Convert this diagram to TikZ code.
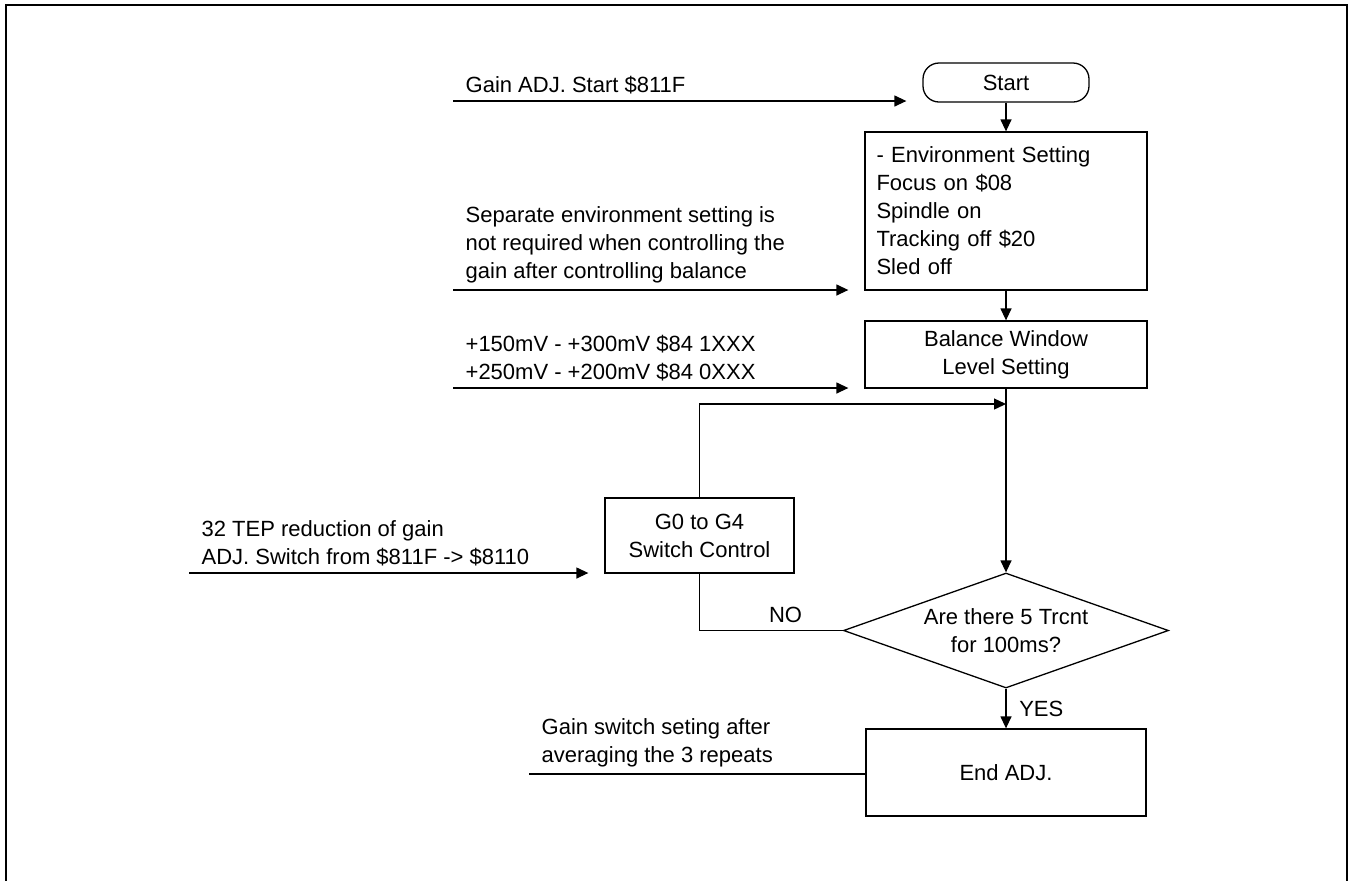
\documentclass[tikz,border=0pt]{standalone}
\usepackage{fontspec}
\setmainfont{Liberation Sans}
\usetikzlibrary{shapes.geometric,arrows.meta}
\definecolor{c000000}{RGB}{0,0,0}
\newcommand{\flowfont}{\fontsize{11pt}{14pt}\selectfont}

\begin{document}
\begin{tikzpicture}[y=0.5pt, x=0.5pt, yscale=-1, line width=0.65pt,
  every node/.style={font=\flowfont, text=c000000},
  proc/.style={draw=c000000, rectangle, inner sep=0pt, align=center,
    minimum width=141pt},
  term/.style={draw=c000000, rectangle, rounded corners=8pt, inner sep=0pt,
    minimum width=83pt, minimum height=19.5pt},
  decide/.style={draw=c000000, diamond, aspect=2.83, inner sep=0pt,
    minimum width=162.5pt, minimum height=57.5pt, align=center},
  flow/.style={draw=c000000, -{Triangle[length=6pt,width=5.5pt]}},
  feed/.style={flow, shorten >=8pt},
  note/.style={above right, align=left, inner sep=3pt, xshift=3pt}]
\useasboundingbox (0,0) rectangle (1350,880);
\path[draw=c000000, line width=1pt] (6,885) -- (6,5) -- (1347,5) -- (1347,885);

% main column
\node[term] (start) at (1006,82.5) {Start};
\node[proc, text width=129.5pt, inner xsep=5.5pt, align=left,
  minimum height=79pt] (env) at (1006,211)
  {- Environment Setting\\Focus on \$08\\Spindle on\\Tracking off \$20\\Sled off};
\node[proc, minimum height=33.5pt] (bal) at (1006,354.5)
  {Balance Window\\Level Setting};
\node[proc, minimum width=94.5pt, minimum height=37.5pt] (g0) at (699.5,535.5)
  {G0 to G4\\Switch Control};
\node[decide] (dec) at (1006,630.5) {Are there 5 Trcnt\\for 100ms?};
\node[proc, minimum width=140pt, minimum height=43.5pt] (endb) at (1006,772.5)
  {End ADJ.};

\path[flow] (start) -- (env);
\path[flow] (env) -- (bal);
\path[flow] (bal) -- (dec);
\path[flow] (dec) -- node[right=3pt] {YES} (endb);
\path[draw=c000000] (dec.west) -| node[above, pos=0.2] {NO} (g0.south);
\coordinate (join) at (1006,404);
\path[flow] (g0.north) |- (join);

% side inputs
\coordinate (gainin) at (453,101);
\coordinate (sepin) at (453,290);
\coordinate (voltin) at (453,388);
\coordinate (tepin) at (189,573);
\coordinate (avgin) at (529,774);
\path[feed] (gainin) -- (gainin -| start.west);
\path[feed] (sepin) -- (sepin -| env.west);
\path[feed] (voltin) -- (voltin -| bal.west);
\path[feed] (tepin) -- (tepin -| g0.west);
\path[draw=c000000] (avgin) -- (avgin -| endb.west);
\node[note] (gaintxt) at (gainin) {Gain ADJ. Start \$811F};
\node[note] (septxt) at (sepin) {Separate environment setting is\\not required
  when controlling the\\gain after controlling balance};
\node[note] (volttxt) at (voltin) {+150mV - +300mV \$84 1XXX\\+250mV - +200mV
  \$84 0XXX};
\node[note] (teptxt) at (tepin) {32 TEP reduction of gain\\ADJ. Switch from
  \$811F -> \$8110};
\node[note] (avgtxt) at (avgin) {Gain switch seting after\\averaging the 3
  repeats};
\end{tikzpicture}
\end{document}
